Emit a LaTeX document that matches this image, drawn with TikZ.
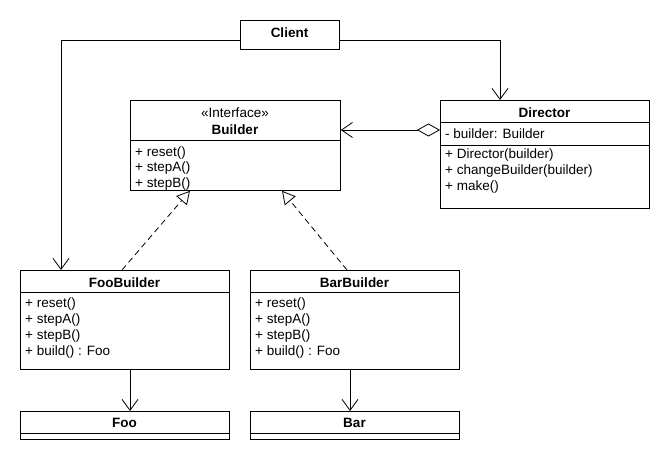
\documentclass[tikz,border=0pt]{standalone}
\usepackage{fontspec}
\setmainfont{Liberation Sans}
\usetikzlibrary{arrows.meta}

\newcommand\umlfont{\fontsize{13.5}{15}\selectfont}

\tikzset{
    cls/.style={draw, line width=0.8pt, anchor=north west, inner sep=0pt},
    ttl/.style={font=\umlfont\bfseries, anchor=base, inner sep=0pt},
    mth/.style={font=\umlfont, anchor=base west, inner sep=0pt},
    navarrow/.style={line width=0.8pt, -{Straight Barb[length=11pt,width=16pt]}},
    realize/.style={line width=0.8pt, dash pattern=on 6pt off 4pt, -{Triangle[open,length=13pt,width=14pt]}},
    aggr/.style={line width=0.8pt, {Diamond[open,length=23pt,width=13pt]}-{Straight Barb[length=11pt,width=15pt]}}
}

\begin{document}
\begin{tikzpicture}[x=1pt, y=-1pt]
        \useasboundingbox (0,0) rectangle (670,460);

        % class boxes
        \node[cls, minimum width=99pt, minimum height=29pt] (client) at (240,20) {};
        \node[cls, minimum width=210pt, minimum height=90pt] (bld) at (130,100) {};
        \node[cls, minimum width=209pt, minimum height=108pt] (dir) at (440,100) {};
        \node[cls, minimum width=209pt, minimum height=99pt] (foob) at (20,270) {};
        \node[cls, minimum width=209pt, minimum height=99pt] (barb) at (250,270) {};
        \node[cls, minimum width=209pt, minimum height=28pt] (foo) at (20,411) {};
        \node[cls, minimum width=209pt, minimum height=28pt] (bar) at (250,411) {};

        % compartment lines
        \draw[line width=0.8pt] ([yshift=-40pt]bld.north west) -- ([yshift=-40pt]bld.north east);
        \draw[line width=0.8pt] ([yshift=-22.5pt]dir.north west) -- ([yshift=-22.5pt]dir.north east);
        \draw[line width=0.8pt] ([yshift=-45pt]dir.north west) -- ([yshift=-45pt]dir.north east);
        \draw[line width=0.8pt] ([yshift=-22pt]foob.north west) -- ([yshift=-22pt]foob.north east);
        \draw[line width=0.8pt] ([yshift=-22pt]barb.north west) -- ([yshift=-22pt]barb.north east);
        \draw[line width=0.8pt] ([yshift=-22pt]foo.north west) -- ([yshift=-22pt]foo.north east);
        \draw[line width=0.8pt] ([yshift=-22pt]bar.north west) -- ([yshift=-22pt]bar.north east);

        % titles
        \node[ttl] (clientT) at (289.5,37.5) {Client};
        \node[ttl, font=\umlfont] (bldS) at (235,117.5) {«Interface»};
        \node[ttl] (bldT) at (235,134.5) {Builder};
        \node[ttl] (dirT) at (544.5,117.5) {Director};
        \node[ttl] (foobT) at (124.5,287.5) {FooBuilder};
        \node[ttl] (barbT) at (354.5,287.5) {BarBuilder};
        \node[ttl] (fooT) at (124.5,427.5) {Foo};
        \node[ttl] (barT) at (354.5,427.5) {Bar};

        % members
        \foreach \m [count=\i] in {reset(), stepA(), stepB()} {
            \node[mth] (bldM\i) at (135,{140.5+15.5*\i}) {+ \m};
        }
        \node[mth] (dirA) at (445,139) {- builder: Builder};
        \foreach \m [count=\i] in {Director(builder), changeBuilder(builder), make()} {
            \node[mth] (dirM\i) at (445,{142.5+16*\i}) {+ \m};
        }
        \foreach \m [count=\i] in {reset(), stepA(), stepB(), build() : Foo} {
            \node[mth] (foobM\i) at (25,{291.5+16*\i}) {+ \m};
            \node[mth] (barbM\i) at (255,{291.5+16*\i}) {+ \m};
        }

        % connectors
        \draw[navarrow] ([yshift=-20pt]client.north west) -| ([xshift=41pt]foob.north west);
        \draw[navarrow] ([yshift=-20pt]client.north east) -| ([xshift=60pt]dir.north west);
        \draw[aggr] ([yshift=-30pt]dir.north west) -- ([yshift=-30pt]bld.north east);
        \draw[realize] ([xshift=102pt]foob.north west) -- ([xshift=60pt]bld.south west);
        \draw[realize] ([xshift=97pt]barb.north west) -- ([xshift=152pt]bld.south west);
        \draw[navarrow] ([xshift=110pt]foob.south west) -- ([xshift=110pt]foo.north west);
        \draw[navarrow] ([xshift=100pt]barb.south west) -- ([xshift=100pt]bar.north west);

    \end{tikzpicture}
\end{document}
